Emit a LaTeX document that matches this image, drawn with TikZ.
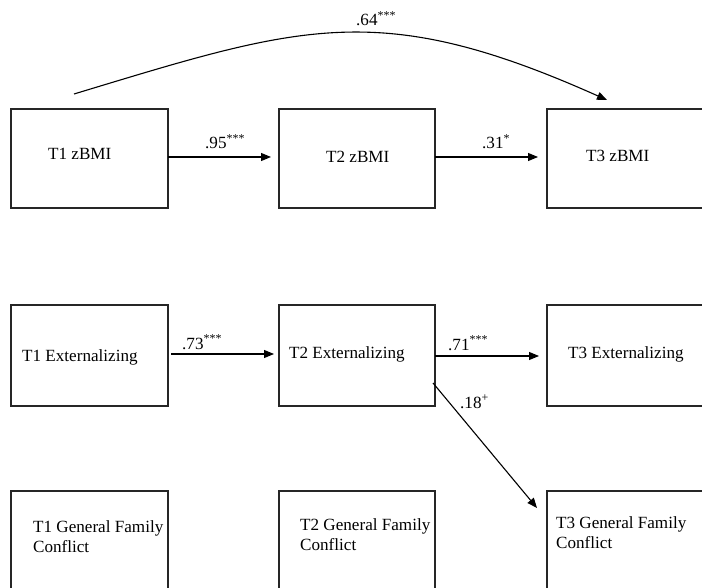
\documentclass[tikz,border=0pt]{standalone}
\usepackage{fontspec}
\setmainfont{Liberation Serif}
\usetikzlibrary{arrows.meta}
\begin{document}
\begin{tikzpicture}[x=1pt,y=-1pt,
  varbox/.style={draw=black!85, line width=1.3pt, rectangle, inner sep=0pt, outer sep=0pt},
  vartext/.style={anchor=base west, inner sep=0pt, font=\fontsize{17.1}{19.5}\selectfont, align=left},
  coef/.style={anchor=base west, inner sep=0pt, font=\fontsize{17.1}{19.5}\selectfont},
  path arrow/.style={line width=1.1pt, -{Triangle[length=10pt,width=8pt]}}]
\useasboundingbox (0,0) rectangle (702,588);
\clip (0,0) rectangle (702,588);

% boxes: zBMI row
\node[varbox, minimum width=157pt, minimum height=99pt] (z1) at (89.5,158.5) {};
\node[varbox, minimum width=156pt, minimum height=99pt] (z2) at (357,158.5) {};
\node[varbox, minimum width=156pt, minimum height=99pt] (z3) at (625,158.5) {};
% boxes: externalizing row
\node[varbox, minimum width=157pt, minimum height=101pt] (e1) at (89.5,355.5) {};
\node[varbox, minimum width=156pt, minimum height=101pt] (e2) at (357,355.5) {};
\node[varbox, minimum width=156pt, minimum height=101pt] (e3) at (625,355.5) {};
% boxes: family conflict row
\node[varbox, minimum width=157pt, minimum height=100pt] (g1) at (89.5,541) {};
\node[varbox, minimum width=156pt, minimum height=100pt] (g2) at (357,541) {};
\node[varbox, minimum width=156pt, minimum height=100pt] (g3) at (625,541) {};

% variable labels
\node[vartext] (z1t) at (48,160) {T1 zBMI};
\node[vartext] (z2t) at (326,163) {T2 zBMI};
\node[vartext] (z3t) at (586,162) {T3 zBMI};
\node[vartext] (e1t) at (22,361) {T1 Externalizing};
\node[vartext] (e2t) at (289,358) {T2 Externalizing};
\node[vartext] (e3t) at (568,359) {T3 Externalizing};
\node[vartext, anchor=north west] (g1t) at (33,520.5) {T1 General Family\\Conflict};
\node[vartext, anchor=north west] (g2t) at (300,518.5) {T2 General Family\\Conflict};
\node[vartext, anchor=north west] (g3t) at (556,516.5) {T3 General Family\\Conflict};

% autoregressive paths
\draw[path arrow, shorten >=8pt] ([yshift=1.5pt]z1.east) -- ([yshift=1.5pt]z2.west);
\draw[path arrow, shorten >=9pt] ([yshift=1.5pt]z2.east) -- ([yshift=1.5pt]z3.west);
\draw[path arrow, shorten <=3pt, shorten >=5pt] ([yshift=1.5pt]e1.east) -- ([yshift=1.5pt]e2.west);
\draw[path arrow, shorten >=8pt] ([yshift=-0.5pt]e2.east) -- ([yshift=-0.5pt]e3.west);

% cross-lagged path
\coordinate (d0) at (433,383);
\coordinate (d1) at (537,508);
\draw[path arrow] (d0) -- (d1);

% T1 -> T3 zBMI
\coordinate (c0) at (74,94);
\coordinate (c1) at (607,100);
\draw[path arrow] (c0) .. controls (302,25) and (379,-2) .. (c1);

% coefficients
\node[coef] (k95) at (205,149) {.95\textsuperscript{***}};
\node[coef] (k31) at (482,149) {.31\textsuperscript{*}};
\node[coef] (k73) at (182,349) {.73\textsuperscript{***}};
\node[coef] (k71) at (448,350) {.71\textsuperscript{***}};
\node[coef] (k18) at (460,408) {.18\textsuperscript{+}};
\node[coef] (k64) at (356,26) {.64\textsuperscript{***}};
\end{tikzpicture}
\end{document}
